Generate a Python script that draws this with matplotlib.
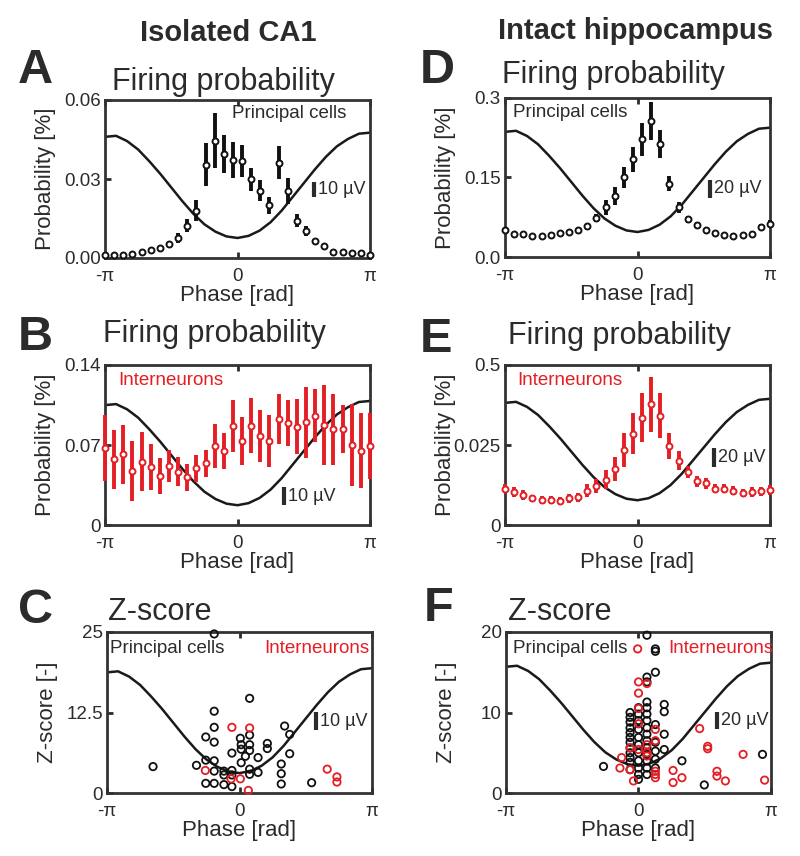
import numpy as np
import matplotlib
matplotlib.use("Agg")
import matplotlib.pyplot as plt

plt.rcParams['font.family'] = ['Liberation Sans', 'DejaVu Sans']

TXT = '#2b2b2b'
RED = '#e41e25'

# ---------------- data ----------------
phase_bins = np.linspace(-np.pi, np.pi, 30)

A_mean = [0.0013, 0.0010, 0.0010, 0.0015, 0.0021, 0.0029, 0.0039, 0.0052, 0.0076, 0.0123,
          0.0180, 0.0354, 0.0446, 0.0395, 0.0373, 0.0369, 0.0299, 0.0255, 0.0200, 0.0362,
          0.0253, 0.0141, 0.0101, 0.0063, 0.0047, 0.0021, 0.0024, 0.0019, 0.0018, 0.0013]
A_err = [0.0002, 0.0002, 0.0002, 0.0002, 0.0003, 0.0003, 0.0004, 0.0006, 0.0018, 0.0024,
         0.0040, 0.0082, 0.0104, 0.0073, 0.0069, 0.0060, 0.0044, 0.0040, 0.0032, 0.0063,
         0.0049, 0.0025, 0.0019, 0.0008, 0.0005, 0.0003, 0.0003, 0.0002, 0.0002, 0.0002]

B_mean = [0.0671, 0.0575, 0.0618, 0.0473, 0.0554, 0.0505, 0.0429, 0.0520, 0.0467, 0.0417,
          0.0496, 0.0540, 0.0691, 0.0647, 0.0866, 0.0735, 0.0869, 0.0779, 0.0735, 0.0927,
          0.0895, 0.0860, 0.0898, 0.0957, 0.0875, 0.0837, 0.0840, 0.0700, 0.0650, 0.0694]
B_err = [0.029, 0.0257, 0.0255, 0.026, 0.026, 0.020, 0.016, 0.014, 0.0125, 0.012,
         0.012, 0.012, 0.019, 0.016, 0.023, 0.021, 0.024, 0.023, 0.023, 0.022,
         0.020, 0.024, 0.031, 0.023, 0.035, 0.031, 0.021, 0.036, 0.033, 0.029]

D_mean = [0.0518, 0.043, 0.043, 0.040, 0.040, 0.041, 0.045, 0.047, 0.0505, 0.058,
          0.074, 0.0935, 0.116, 0.150, 0.184, 0.222, 0.257, 0.213, 0.138, 0.0935,
          0.071, 0.060, 0.0505, 0.045, 0.042, 0.040, 0.041, 0.043, 0.057, 0.063]
D_err = [0.002, 0.0015, 0.0015, 0.0015, 0.0015, 0.0015, 0.002, 0.002, 0.003, 0.004,
         0.008, 0.014, 0.017, 0.020, 0.024, 0.031, 0.036, 0.027, 0.014, 0.010,
         0.007, 0.006, 0.003, 0.002, 0.002, 0.0015, 0.0015, 0.002, 0.005, 0.006]

E_mean = [0.0114, 0.0104, 0.0093, 0.0083, 0.0078, 0.0079, 0.0075, 0.0084, 0.0086, 0.0107,
          0.0123, 0.0142, 0.0175, 0.0233, 0.0285, 0.0335, 0.0377, 0.0341, 0.0246, 0.0201,
          0.0165, 0.0136, 0.0130, 0.0114, 0.0114, 0.0107, 0.0100, 0.0104, 0.0105, 0.0110]
E_err = [0.0015, 0.0015, 0.0015, 0.0012, 0.0012, 0.0012, 0.0012, 0.0014, 0.0015, 0.0020,
         0.0022, 0.0030, 0.0039, 0.0053, 0.0064, 0.0076, 0.0086, 0.0070, 0.0040, 0.0030,
         0.0018, 0.0018, 0.0018, 0.0015, 0.0015, 0.0014, 0.0014, 0.0015, 0.0015, 0.0015]

# Z-score scatter (phase [rad], z)
C_pc_phase = [-0.60, 0.24, -0.60, -0.60, -0.80, -0.60, 0.02, 0.24, 0.04, 0.24, 0.04, 0.24,
              0.66, 0.66, 1.07, 1.19, 1.19, -0.18, 0.14, 0.44, 0.04, -0.80, -0.60, -1.02,
              -2.05, -0.60, -0.37, -0.18, -0.37, -0.18, 0.24, 0.24, 0.44, 0.99, 0.99, -0.80,
              -0.60, -0.37, -0.18, 0.99, 1.71]
C_pc_z = [24.7, 14.7, 12.7, 10.2, 8.7, 7.9, 8.5, 9.0, 7.5, 7.5, 6.8, 6.6,
          7.7, 6.9, 10.4, 9.1, 6.1, 6.2, 5.7, 5.5, 4.7, 5.1, 5.0, 4.3,
          4.1, 3.4, 3.4, 3.5, 2.8, 2.8, 3.7, 2.9, 3.2, 4.5, 3.0, 1.5,
          1.5, 1.3, 1.0, 1.4, 1.6]
C_in_phase = [-0.18, 0.24, -0.81, -0.20, 0.02, 0.21, 2.08, 2.31, 2.31]
C_in_z = [10.2, 10.1, 3.5, 2.2, 2.2, 0.4, 3.7, 2.5, 1.7]

F_pc_phase = [0.20, 0.40, 0.40, 0.40, 0.20, 0.20, 0.61, 0.61,
              -0.20, -0.20, -0.20, -0.20, -0.20, -0.20, -0.20, -0.20, -0.20, -0.20, -0.20, -0.20,
              0.00, 0.00, 0.00, 0.00, 0.00, 0.00, 0.00, 0.00, 0.00, 0.00, 0.00,
              0.20, 0.20, 0.20, 0.20, 0.20, 0.20, 0.20, 0.20, 0.20, 0.20, 0.20, 0.20,
              0.40, 0.40, 0.40, 0.40, 0.40, 0.61, 0.61, 1.03, -0.83, 1.56, 2.94]
F_pc_z = [19.6, 17.9, 17.6, 15.0, 14.4, 13.8, 11.0, 10.1,
          10.0, 9.4, 8.8, 8.1, 7.5, 6.9, 6.3, 5.6, 5.0, 4.4, 3.8, 2.9,
          10.6, 9.8, 9.0, 7.9, 6.9, 6.0, 5.0, 4.0, 3.1, 2.3, 1.7,
          11.3, 10.6, 9.8, 9.0, 8.1, 7.3, 6.5, 5.6, 4.8, 4.0, 3.1, 2.3,
          8.5, 6.3, 5.2, 4.2, 3.1, 7.3, 5.4, 4.0, 3.3, 1.0, 4.8]
F_in_phase = [-0.02, 0.00, 0.20, 0.00, 0.00, 0.00, 0.40, 0.40, -0.20, 0.00, 0.20, 0.20,
              0.20, -0.40, -0.44, -0.20, 0.40, 0.40, -0.12, 0.40, 0.82, 0.82, 1.03, 1.45,
              1.64, 1.64, 1.86, 1.86, 2.06, 2.48, 2.99]
F_in_z = [17.9, 13.8, 13.6, 12.4, 10.5, 8.6, 7.9, 6.5, 5.6, 5.4, 6.0, 5.0,
          4.6, 4.4, 3.1, 2.9, 2.7, 2.3, 1.5, 1.9, 2.8, 1.3, 1.9, 8.0,
          5.8, 5.5, 2.7, 2.1, 1.5, 4.8, 1.6]

# mean LFP waveform (normalized trough-to-peak) sampled every pi/12
lfp_phase = np.linspace(-np.pi, np.pi, 25)
lfp_shape = [0.96, 0.97, 0.92, 0.84, 0.73, 0.61, 0.48, 0.35, 0.23, 0.13, 0.06, 0.015, 0.0,
             0.02, 0.07, 0.15, 0.26, 0.39, 0.52, 0.65, 0.77, 0.87, 0.94, 0.99, 1.0]

# ---------------- figure ----------------
fig = plt.figure(figsize=(8.0, 8.56), dpi=100)
LBL = 13.5


def rect(l, t, r, b):
    return [l / 800, 1 - b / 856, (r - l) / 800, (b - t) / 856]


def style(ax, ylim, yticks, yticklabels, ylabel):
    ax.set_xlim(-np.pi, np.pi)
    ax.set_ylim(*ylim)
    ax.set_xticks([-np.pi, 0, np.pi])
    ax.set_xticklabels(['-π', '0', 'π'])
    ax.set_yticks(yticks)
    ax.set_yticklabels(yticklabels)
    ax.tick_params(direction='in', length=4, width=2, colors=TXT, labelsize=13.5,
                   top=True, pad=3)
    ax.tick_params(axis='x', pad=7)
    for sp in ax.spines.values():
        sp.set_linewidth(2.0)
        sp.set_color('#333333')
    ax.set_xlabel('Phase [rad]', fontsize=16, color=TXT)
    ax.set_ylabel(ylabel, fontsize=16, color=TXT)
    ax.yaxis.set_label_coords(-0.185, 0.5)
    ax.xaxis.set_label_coords(0.5, -0.17)


def lfp(ax, pp, lo, hi, bar_uv, bar_x, bar_y):
    tw = ax.twinx()
    tw.set_ylim(lo, hi)
    tw.set_xlim(-np.pi, np.pi)
    tw.axis('off')
    tw.plot(lfp_phase, np.array(lfp_shape) * pp, color='#1a1a1a', lw=1.8, zorder=1)
    tw.plot([bar_x, bar_x], [bar_y, bar_y + bar_uv], color='#2b2b2b', lw=3,
            transform=tw.get_yaxis_transform(), solid_capstyle='butt')
    tw.text(bar_x + 0.015, bar_y + bar_uv / 2, '%d µV' % bar_uv, fontsize=13,
            color=TXT, va='center', ha='left', transform=tw.get_yaxis_transform())
    ax.set_zorder(tw.get_zorder() + 1)
    ax.patch.set_visible(False)
    return tw


def errpanel(ax, mean, err, color):
    ax.errorbar(phase_bins, mean, yerr=err, fmt='o', color=color, ecolor=color,
                elinewidth=2.8, capsize=0, ms=4.3, mfc='white', mec=color, mew=1.4,
                zorder=3, clip_on=False)


# Panel A
axA = fig.add_axes(rect(105, 100, 370, 258))
lfp(axA, 70, -13.3, 91.7, 10, 0.79, 27)
errpanel(axA, A_mean, A_err, '#111111')
style(axA, (0, 0.06), [0, 0.03, 0.06], ['0.00', '0.03', '0.06'], 'Probability [%]')
axA.text(0.48, 0.915, 'Principal cells', transform=axA.transAxes, fontsize=LBL,
         color=TXT, ha='left', va='center')

# Panel B
axB = fig.add_axes(rect(105, 365, 370, 525))
lfp(axB, 58, -11, 78, 10, 0.675, 0)
errpanel(axB, B_mean, B_err, RED)
style(axB, (0, 0.14), [0, 0.07, 0.14], ['0', '0.07', '0.14'], 'Probability [%]')
axB.text(0.05, 0.9, 'Interneurons', transform=axB.transAxes, fontsize=LBL,
         color=RED, ha='left', va='center')

# Panel C
axC = fig.add_axes(rect(107, 632, 372, 793))
lfp(axC, 58, -11, 78, 10, 0.79, 23.7)
axC.scatter(C_pc_phase, C_pc_z, s=28, facecolors='none', edgecolors='#111111',
            linewidths=1.3, zorder=3, clip_on=False)
axC.scatter(C_in_phase, C_in_z, s=28, facecolors='none', edgecolors=RED,
            linewidths=1.3, zorder=4, clip_on=False)
style(axC, (0, 25), [0, 12.5, 25], ['0', '12.5', '25'], 'Z-score [-]')
axC.text(0.01, 0.9, 'Principal cells', transform=axC.transAxes, fontsize=LBL,
         color=TXT, ha='left', va='center')
axC.text(0.99, 0.9, 'Interneurons', transform=axC.transAxes, fontsize=LBL,
         color=RED, ha='right', va='center')

# Panel D
axD = fig.add_axes(rect(505, 98, 770, 257))
lfp(axD, 116, -27.8, 149, 20, 0.774, 38)
errpanel(axD, D_mean, D_err, '#111111')
style(axD, (0, 0.3), [0, 0.15, 0.3], ['0.0', '0.15', '0.3'], 'Probability [%]')
axD.text(0.03, 0.91, 'Principal cells', transform=axD.transAxes, fontsize=LBL,
         color=TXT, ha='left', va='center')

# Panel E
axE = fig.add_axes(rect(505, 365, 770, 525))
lfp(axE, 106.5, -26, 142, 20, 0.789, 35)
errpanel(axE, E_mean, E_err, RED)
style(axE, (0, 0.05), [0, 0.025, 0.05], ['0', '0.025', '0.5'], 'Probability [%]')
axE.text(0.045, 0.9, 'Interneurons', transform=axE.transAxes, fontsize=LBL,
         color=RED, ha='left', va='center')

# Panel F
axF = fig.add_axes(rect(506, 632, 771, 793))
lfp(axF, 121, -32, 157, 20, 0.796, 43)
axF.scatter(F_pc_phase, F_pc_z, s=28, facecolors='none', edgecolors='#111111',
            linewidths=1.3, zorder=3, clip_on=False)
axF.scatter(F_in_phase, F_in_z, s=28, facecolors='none', edgecolors=RED,
            linewidths=1.3, zorder=4, clip_on=False)
style(axF, (0, 20), [0, 10, 20], ['0', '10', '20'], 'Z-score [-]')
axF.text(0.025, 0.9, 'Principal cells', transform=axF.transAxes, fontsize=LBL,
         color=TXT, ha='left', va='center')
axF.text(1.01, 0.9, 'Interneurons', transform=axF.transAxes, fontsize=LBL,
         color=RED, ha='right', va='center')

# ---------------- titles and letters ----------------
def ftext(x, y, s, **kw):
    fig.text(x / 800, 1 - y / 856, s, **kw)

ftext(228, 33, 'Isolated CA1', fontsize=21, fontweight='bold', color=TXT, ha='center', va='center')
ftext(635, 31, 'Intact hippocampus', fontsize=21, fontweight='bold', color=TXT, ha='center', va='center')

for (x, y, s) in [(18, 83, 'A'), (18, 350, 'B'), (18, 623, 'C'),
                  (420, 83, 'D'), (420, 352, 'E'), (424, 621, 'F')]:
    ftext(x, y, s, fontsize=35, fontweight='bold', color=TXT, ha='left', va='baseline')

for (x, y, s) in [(112, 90, 'Firing probability'), (103, 342, 'Firing probability'),
                  (108, 620, 'Z-score'), (502, 83, 'Firing probability'),
                  (508, 344, 'Firing probability'), (508, 620, 'Z-score')]:
    ftext(x, y, s, fontsize=22, color=TXT, ha='left', va='baseline')

fig.savefig('out.png', dpi=100)
